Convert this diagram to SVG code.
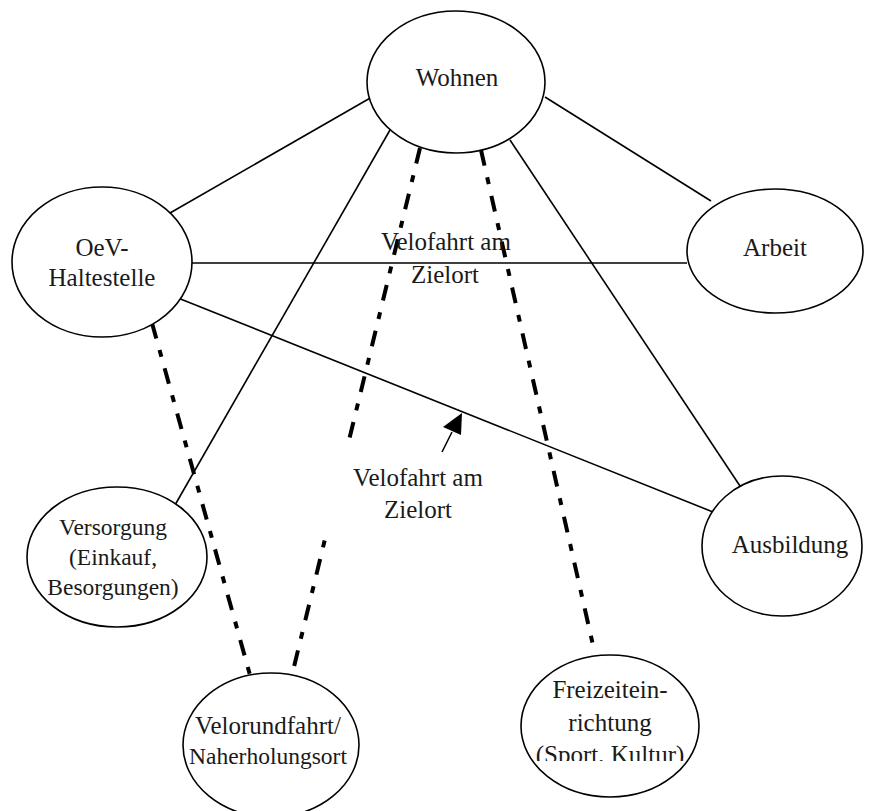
<svg xmlns="http://www.w3.org/2000/svg" width="873" height="811" viewBox="0 0 873 811">
<style>
.n{fill:#fff;stroke:#000;stroke-width:1.6}
.t{font-family:"Liberation Serif","DejaVu Serif",serif;font-size:25px;fill:#1a1a1a;text-anchor:middle}
.sm{font-size:23.5px}
.s{stroke:#000;stroke-width:1.6;fill:none}
.d{stroke:#000;stroke-width:4;fill:none;stroke-dasharray:16 12 7 12}
</style>
<defs>
<clipPath id="fclip"><rect x="500" y="640" width="220" height="121"/></clipPath>
</defs>
<rect width="873" height="811" fill="#fff"/>
<g id="connectors">
<line class="s" x1="372" y1="97" x2="170" y2="213"/>
<line class="s" x1="545" y1="97" x2="711" y2="201"/>
<line class="s" x1="390" y1="130" x2="175" y2="505"/>
<line class="s" x1="510" y1="140" x2="740" y2="486"/>
<line class="s" x1="192" y1="263" x2="687" y2="263"/>
<line class="s" x1="178" y1="298" x2="713" y2="512"/>
<line class="d" x1="152" y1="323" x2="250" y2="675"/>
<line class="d" x1="420" y1="148" x2="292" y2="675"/>
<line class="d" x1="481" y1="150" x2="595" y2="654"/>
</g>
<g id="label-upper">
<text class="t" x="446" y="250">Velofahrt am</text>
<text class="t" x="445" y="283">Zielort</text>
</g>
<g id="label-lower">
<rect x="322" y="446" width="196" height="88" fill="#fff"/>
<line class="s" x1="442" y1="452" x2="452" y2="432"/>
<polygon points="462,413 443,427 461,435" fill="#000"/>
<text class="t" x="418" y="486">Velofahrt am</text>
<text class="t" x="418" y="518">Zielort</text>
</g>
<g id="wohnen">
<ellipse class="n" cx="456" cy="82" rx="89" ry="71"/>
<text class="t" x="457" y="86">Wohnen</text>
</g>
<g id="oev">
<ellipse class="n" cx="102" cy="262" rx="90" ry="75"/>
<text class="t" x="102" y="256">OeV-</text>
<text class="t" x="102" y="286">Haltestelle</text>
</g>
<g id="arbeit">
<ellipse class="n" cx="775" cy="251" rx="88" ry="62"/>
<text class="t" x="775" y="256">Arbeit</text>
</g>
<g id="ausbildung">
<ellipse class="n" cx="782" cy="546" rx="80" ry="70"/>
<text class="t" x="790" y="553">Ausbildung</text>
</g>
<g id="versorgung">
<ellipse class="n" cx="117" cy="557" rx="90" ry="70"/>
<text class="t sm" x="113" y="535">Versorgung</text>
<text class="t sm" x="113" y="565">(Einkauf,</text>
<text class="t sm" x="113" y="595">Besorgungen)</text>
</g>
<g id="velorundfahrt">
<ellipse class="n" cx="271" cy="745" rx="88" ry="72"/>
<text class="t" x="268" y="734">Velorundfahrt/</text>
<text class="t sm" x="268" y="764">Naherholungsort</text>
</g>
<g id="freizeit">
<ellipse class="n" cx="610" cy="726" rx="89" ry="71"/>
<text class="t" x="610" y="698">Freizeitein-</text>
<text class="t" x="610" y="731">richtung</text>
<text class="t" x="610" y="763" clip-path="url(#fclip)">(Sport, Kultur)</text>
</g>
</svg>
